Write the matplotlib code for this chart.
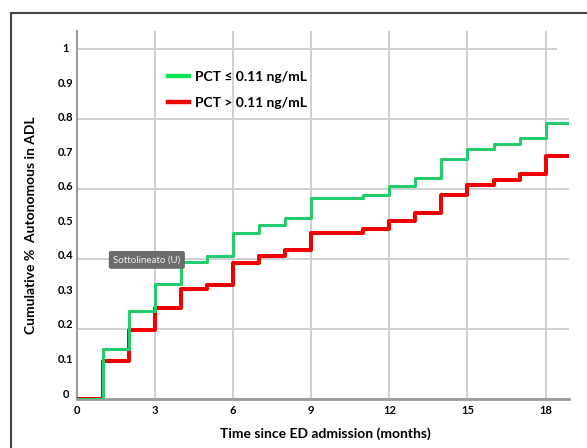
import numpy as np
import matplotlib
matplotlib.use("Agg")
import matplotlib.pyplot as plt
import matplotlib.transforms as mtransforms
from matplotlib.lines import Line2D

plt.rcParams['font.family'] = ['Lato', 'DejaVu Sans']
plt.rcParams['font.weight'] = 'bold'

# -- Data -----------------------------------------------------------------
months = [0, 1, 2, 3, 4, 5, 6, 7, 8, 9, 11, 12, 13, 14, 15, 16, 17, 18, 18.9]
pct_low = [0, 0.142, 0.251, 0.328, 0.392, 0.407, 0.475, 0.496, 0.516, 0.573,
           0.583, 0.607, 0.631, 0.685, 0.713, 0.728, 0.744, 0.788, 0.788]
pct_high = [0, 0.109, 0.197, 0.259, 0.314, 0.326, 0.388, 0.407, 0.426, 0.474,
            0.486, 0.507, 0.531, 0.583, 0.611, 0.626, 0.642, 0.692, 0.692]
labels = ['PCT \u2264 0.11 ng/mL', 'PCT > 0.11 ng/mL']
xticks = [0, 3, 6, 9, 12, 15, 18]
yticks = [0, 0.1, 0.2, 0.3, 0.4, 0.5, 0.6, 0.7, 0.8, 0.9, 1.0]
ytick_labels = ['0', '0.1', '0.2', '0.3', '0.4', '0.5', '0.6', '0.7', '0.8', '0.9', '1']
ygrid = [0.2, 0.4, 0.6, 0.8, 1.0]

GREEN = '#24cc6c'
GREEN_LEG = '#10e25a'
RED = '#f00000'
GRID = '#cdcdcd'
AXIS = '#9a9a9a'

W, H = 587, 448
fig = plt.figure(figsize=(W / 100, H / 100), dpi=100)
ax = fig.add_axes([77 / W, 1 - 399 / H, (569 - 77) / W, (399 - 31) / H])

# grid
for x in xticks[1:]:
    ax.axvline(x, color=GRID, lw=1.3, zorder=1)
for y in ygrid:
    ax.hlines(y, 0, 18.45 if y == 1.0 else 18.9, color=GRID, lw=1.3, zorder=1)

ax.step(months, pct_high, where='post', color=RED, lw=2.9, zorder=3)
ax.step(months, pct_low, where='post', color=GREEN, lw=2.2, zorder=4)

ax.set_xlim(0, 18.9)
ax.set_ylim(0, 1.05)
ax.set_xticks(xticks)
ax.set_yticks(yticks)
ax.set_yticklabels(ytick_labels)
ax.tick_params(length=0, labelsize=8)
ax.tick_params(axis='x', pad=4)
ax.tick_params(axis='y', pad=8)
# the value labels in the original sit a little above their gridlines near 0
for k, t in enumerate(ax.get_yticklabels()):
    t.set_horizontalalignment('center')
    off = mtransforms.ScaledTranslation(0, (6 - 0.5 * k) / 100, fig.dpi_scale_trans)
    t.set_transform(t.get_transform() + off)
for t in ax.get_xticklabels() + ax.get_yticklabels():
    t.set_fontweight('bold')

for s in ['top', 'right']:
    ax.spines[s].set_visible(False)
ax.spines['left'].set_color(AXIS)
ax.spines['left'].set_linewidth(1.5)
ax.spines['bottom'].set_color(AXIS)
ax.spines['bottom'].set_linewidth(2.0)

ax.set_xlabel('Time since ED admission (months)', fontsize=10, fontweight='bold')
ax.set_ylabel('Cumulative %  Autonomous in ADL', fontsize=10, fontweight='bold')
ax.xaxis.set_label_coords(0.504, -0.078)
ax.yaxis.set_label_coords(-0.081, 0.473)

handles = [Line2D([0], [0], color=GREEN_LEG, lw=3.2),
           Line2D([0], [0], color=RED, lw=3.2)]
ax.legend(handles, labels, loc='upper left', bbox_to_anchor=(0.185, 0.892),
          frameon=False, handlelength=1.5, handletextpad=0.45,
          labelspacing=1.05, borderpad=0, borderaxespad=0,
          prop={'weight': 'bold', 'size': 10})

# tooltip left over in the screenshot
ax.text(0.142, 0.378, 'Sottolineato (U)', transform=ax.transAxes,
        ha='center', va='center', fontsize=7, color='#f2f2f2',
        fontweight='normal', zorder=6,
        bbox=dict(boxstyle='round,pad=0.38,rounding_size=0.15',
                  facecolor='#6b6b6b', edgecolor='#6b6b6b'))

# outer frame (top and left visible only)
fx, fy = 11 / W, 1 - 13 / H
fig.add_artist(Line2D([fx, 1], [fy, fy], color='#444444', lw=1.5,
                      transform=fig.transFigure))
fig.add_artist(Line2D([fx, fx], [0, fy], color='#444444', lw=1.5,
                      transform=fig.transFigure))

fig.savefig('out.png', dpi=100)
